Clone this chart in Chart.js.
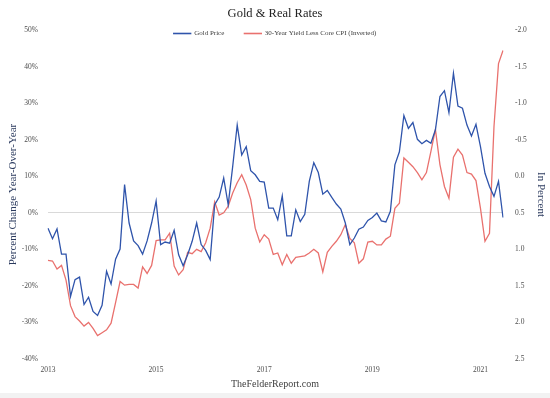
<!DOCTYPE html>
<html>
<head>
<meta charset="utf-8">
<script src="https://cdn.jsdelivr.net/npm/chart.js@4"></script>
<style>
  body { margin: 0; background: #f2f2f2; }
  #wrap { width: 550px; height: 393px; background: white; }
</style>
</head>
<body>
<div id="wrap"><canvas id="chart" width="550" height="393"></canvas></div>
<script>
// monthly, Jan 2013 - Jun 2021
const years = ["2013", "2014", "2015", "2016", "2017", "2018", "2019", "2020", "2021"];
const xTickLabels = ["2013", "2015", "2017", "2019", "2021"];

// gold price, % change year over year
const goldPrice = [
  -4.2, -7.1, -4.4, -11.3, -11.3, -22.9, -18.3, -17.6, -25.1, -23.1, -27.0, -28.1,
  -25.3, -16.0, -19.5, -12.7, -9.9, 7.7, -2.8, -7.7, -9.0, -11.3, -7.7, -2.8,
  3.2, -8.7, -8.0, -8.3, -4.8, -11.5, -14.5, -11.5, -7.8, -2.8, -8.7, -10.3,
  -12.8, 2.2, 4.3, 9.5, 2.2, 12.7, 24.0, 15.8, 18.1, 11.5, 10.4, 8.6,
  8.4, 1.3, 1.3, -1.9, 4.6, -6.3, -6.3, 0.8, -2.4, -0.4, 8.6, 13.7,
  11.0, 5.1, 6.1, 4.2, 2.4, 1.0, -2.8, -8.7, -6.9, -4.5, -3.9, -2.1,
  -1.3, -0.1, -2.2, -2.5, 0.4, 13.1, 16.7, 26.6, 23.1, 24.7, 20.1, 18.9,
  19.8, 19.0, 22.7, 31.8, 33.4, 27.4, 38.2, 29.2, 28.6, 24.0, 21.0, 24.2,
  18.1, 10.8, 7.2, 4.5, 8.6, -1.3
];

// 30-year yield less core CPI, in percent (plotted inverted)
const realRate = [
  1.15, 1.16, 1.27, 1.22, 1.42, 1.77, 1.92, 1.98, 2.05, 2.00, 2.08, 2.18,
  2.14, 2.10, 2.01, 1.73, 1.44, 1.49, 1.48, 1.48, 1.53, 1.24, 1.33, 1.22,
  0.88, 0.87, 0.87, 0.78, 1.23, 1.35, 1.28, 1.04, 1.06, 1.00, 1.03, 0.91,
  0.71, 0.35, 0.53, 0.50, 0.41, 0.23, 0.09, -0.02, 0.12, 0.32, 0.71, 0.90,
  0.80, 0.86, 1.07, 1.05, 1.21, 1.07, 1.19, 1.11, 1.10, 1.09, 1.05, 1.00,
  1.05, 1.31, 1.04, 0.96, 0.89, 0.80, 0.66, 0.85, 0.91, 1.19, 1.13, 0.90,
  0.89, 0.94, 0.94, 0.86, 0.82, 0.44, 0.37, -0.25, -0.19, -0.13, -0.05, 0.05,
  -0.05, -0.34, -0.64, -0.16, 0.14, 0.30, -0.26, -0.37, -0.29, -0.05, -0.03, 0.06,
  0.44, 0.89, 0.78, -0.68, -1.54, -1.72
];

const labels = [];
years.forEach((y) => {
  for (let m = 1; m <= 12; m++) {
    if (labels.length < goldPrice.length) {
      labels.push(y + "-" + String(m).padStart(2, "0"));
    }
  }
});

const serif = "'Liberation Serif', 'DejaVu Serif', serif";
const tickColor = "#4d4d4d";
const titleColor = "#2b3a5e";

// legend sits inside the plot, like the excel original
const legendInPlot = {
  id: "legendInPlot",
  beforeInit(chart) {
    const fit = chart.legend.fit;
    chart.legend.fit = function () {
      fit.bind(chart.legend)();
      this.height = 0;
    };
  },
  afterLayout(chart) {
    const legend = chart.legend;
    legend.top = 10;
    legend.bottom = 44;
    legend.height = legend.bottom - legend.top;
  },
};

const config = {
  type: "line",
  data: {
    labels,
    datasets: [
      {
        label: "Gold Price",
        data: goldPrice,
        yAxisID: "y",
        borderColor: "#2f54ab",
        backgroundColor: "#2f54ab",
        borderWidth: 1.3,
        pointRadius: 0,
        tension: 0,
      },
      {
        label: "30-Year Yield Less Core CPI (Inverted)",
        data: realRate,
        yAxisID: "y1",
        borderColor: "#e9716e",
        backgroundColor: "#e9716e",
        borderWidth: 1.3,
        pointRadius: 0,
        tension: 0,
      },
    ],
  },
  options: {
    responsive: false,
    animation: false,
    layout: { padding: 0 },
    plugins: {
      title: {
        display: true,
        text: "Gold & Real Rates",
        color: "#222",
        font: { family: serif, size: 12.5, weight: "normal" },
        padding: { top: 6, bottom: 9 },
      },
      subtitle: {
        display: true,
        position: "bottom",
        text: "TheFelderReport.com",
        color: "#404040",
        font: { family: serif, size: 10 },
        padding: { top: 1, bottom: 3 },
      },
      legend: {
        position: "top",
        labels: {
          color: "#404040",
          font: { family: serif, size: 7 },
          boxWidth: 17,
          boxHeight: 0.3,
          padding: 20,
        },
      },
      tooltip: { enabled: false },
    },
    scales: {
      x: {
        grid: { display: false, drawTicks: false },
        border: { display: false },
        afterFit: (scale) => { scale.height = 18; },
        ticks: {
          autoSkip: false,
          maxRotation: 0,
          padding: 7,
          color: tickColor,
          font: { family: serif, size: 7.5 },
          callback: function (value) {
            const lab = this.getLabelForValue(value);
            const [y, m] = lab.split("-");
            return m === "01" && xTickLabels.includes(y) ? y : null;
          },
        },
      },
      y: {
        position: "left",
        min: -40,
        max: 50,
        border: { display: false },
        afterFit: (scale) => { scale.width = 48; },
        grid: {
          drawTicks: false,
          color: (ctx) => (ctx.tick && ctx.tick.value === 0 ? "#d9d9d9" : "rgba(0,0,0,0)"),
        },
        ticks: {
          stepSize: 10,
          padding: 10,
          color: tickColor,
          font: { family: serif, size: 7.5 },
          callback: (v) => v + "%",
        },
        title: {
          display: true,
          text: "Percent Change Year-Over-Year",
          color: titleColor,
          font: { family: serif, size: 11 },
          padding: { top: 7, bottom: 0 },
        },
      },
      y1: {
        position: "right",
        min: -2,
        max: 2.5,
        reverse: true,
        border: { display: false },
        afterFit: (scale) => { scale.width = 47; },
        grid: { display: false, drawTicks: false },
        ticks: {
          stepSize: 0.5,
          padding: 12,
          color: tickColor,
          font: { family: serif, size: 7.5 },
          callback: (v) => v.toFixed(1),
        },
        title: {
          display: true,
          text: "In Percent",
          color: titleColor,
          font: { family: serif, size: 11 },
          padding: { top: 3, bottom: 0 },
        },
      },
    },
  },
  plugins: [legendInPlot],
};

const canvas = document.getElementById("chart");
new Chart(canvas, config);
</script>
</body>
</html>
